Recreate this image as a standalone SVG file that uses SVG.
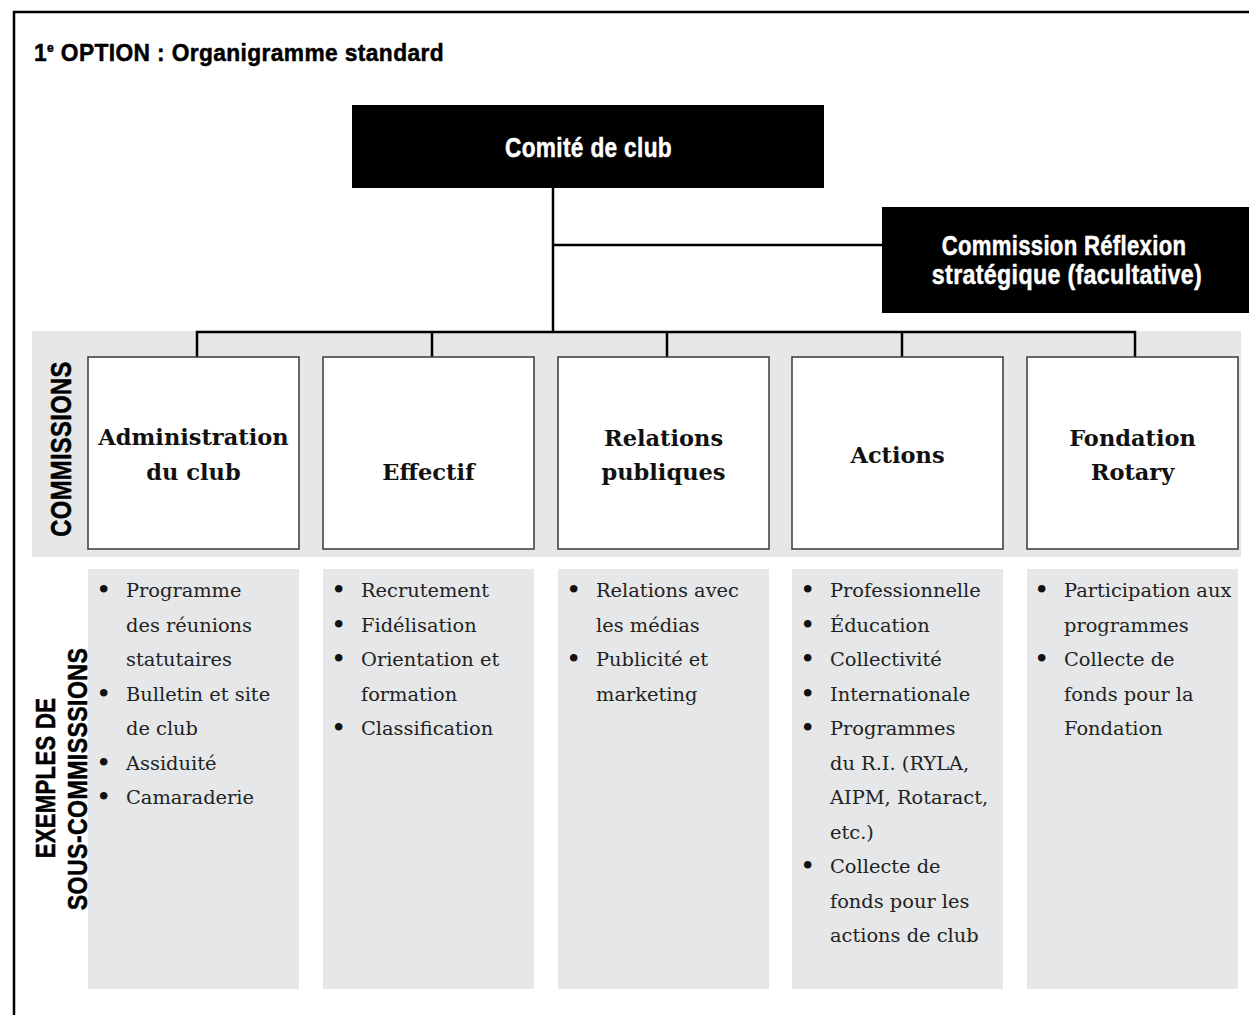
<svg xmlns="http://www.w3.org/2000/svg" width="1249" height="1015" viewBox="0 0 1249 1015">
<style>
  .cond { font-family: "Liberation Sans", Arial, sans-serif; font-weight: bold; stroke-width: 0.5; stroke-linejoin: round; letter-spacing: 0.4px; }
  .dk { fill: #000000; stroke: #000000; }
  .white { fill: #ffffff; stroke: #ffffff; }
  .blk { fill: #000000; }
  .band { fill: #e6e7e8; }
  .box { fill: #ffffff; stroke: #3a3a3a; stroke-width: 1.5; }
  .ttl { font-family: "DejaVu Serif", "Liberation Serif", serif; font-weight: bold; font-size: 22.5px; fill: #111; text-anchor: middle; }
  .li { font-family: "DejaVu Serif", "Liberation Serif", serif; font-size: 19.4px; fill: #222; }
  .bul { font-family: "DejaVu Serif", "Liberation Serif", serif; font-size: 26px; fill: #111; }
  .conn { stroke: #000; stroke-width: 2.5; fill: none; }
</style>
<rect width="1249" height="1015" fill="#ffffff"/>
<path d="M14,1015 V12 H1249" fill="none" stroke="#000" stroke-width="2.5"/>
<text class="cond dk" transform="translate(34,61) scale(0.93,1)" font-size="24.5">1<tspan font-size="13" dy="-9">e</tspan><tspan dy="9"> OPTION : Organigramme standard</tspan></text>

<rect class="band" x="32" y="331" width="1209" height="226"/>
<text class="cond dk" font-size="29" text-anchor="middle" transform="translate(71,449) rotate(-90) scale(0.82,1)">COMMISSIONS</text>
<text class="cond dk" font-size="28" text-anchor="middle" transform="translate(55,778) rotate(-90) scale(0.79,1)">EXEMPLES DE</text>
<text class="cond dk" font-size="28" text-anchor="middle" transform="translate(87,779) rotate(-90) scale(0.83,1)">SOUS-COMMISSSIONS</text>

<g id="connectors">
  <path class="conn" d="M553,188 V332"/>
  <path class="conn" d="M553,245 H882"/>
  <path class="conn" d="M197,357 V332 H1135 V357"/>
  <path class="conn" d="M432,332 V357"/>
  <path class="conn" d="M667,332 V357"/>
  <path class="conn" d="M902,332 V357"/>
</g>

<g id="comite">
  <rect class="blk" x="352" y="105" width="472" height="83"/>
  <text class="cond white" transform="translate(588.5,157) scale(0.81,1)" font-size="28" text-anchor="middle">Comité de club</text>
</g>
<g id="reflexion">
  <rect class="blk" x="882" y="207" width="367" height="106"/>
  <text class="cond white" transform="translate(1064,255) scale(0.79,1)" font-size="28" text-anchor="middle">Commission Réflexion</text>
  <text class="cond white" transform="translate(1067,284) scale(0.83,1)" font-size="28" text-anchor="middle">stratégique (facultative)</text>
</g>

<g id="administration">
  <rect class="box" x="88" y="357" width="211" height="192"/>
  <text class="ttl" x="193.5" y="445">Administration</text>
  <text class="ttl" x="193.5" y="480">du club</text>
</g>
<g id="effectif">
  <rect class="box" x="323" y="357" width="211" height="192"/>
  <text class="ttl" x="428.5" y="480">Effectif</text>
</g>
<g id="relations">
  <rect class="box" x="558" y="357" width="211" height="192"/>
  <text class="ttl" x="663.5" y="446">Relations</text>
  <text class="ttl" x="663.5" y="480">publiques</text>
</g>
<g id="actions">
  <rect class="box" x="792" y="357" width="211" height="192"/>
  <text class="ttl" x="897.5" y="463">Actions</text>
</g>
<g id="fondation">
  <rect class="box" x="1027" y="357" width="211" height="192"/>
  <text class="ttl" x="1132.5" y="446">Fondation</text>
  <text class="ttl" x="1132.5" y="480">Rotary</text>
</g>

<g id="sub-administration">
  <rect class="band" x="88" y="569" width="211" height="420"/>
  <text class="bul" x="96" y="599">•<tspan x="96" dy="103.5">•</tspan><tspan x="96" dy="69">•</tspan><tspan x="96" dy="34.5">•</tspan></text>
  <text class="li" x="126" y="597">Programme<tspan x="126" dy="34.5">des réunions</tspan><tspan x="126" dy="34.5">statutaires</tspan><tspan x="126" dy="34.5">Bulletin et site</tspan><tspan x="126" dy="34.5">de club</tspan><tspan x="126" dy="34.5">Assiduité</tspan><tspan x="126" dy="34.5">Camaraderie</tspan></text>
</g>
<g id="sub-effectif">
  <rect class="band" x="323" y="569" width="211" height="420"/>
  <text class="bul" x="331" y="599">•<tspan x="331" dy="34.5">•</tspan><tspan x="331" dy="34.5">•</tspan><tspan x="331" dy="69">•</tspan></text>
  <text class="li" x="361" y="597">Recrutement<tspan x="361" dy="34.5">Fidélisation</tspan><tspan x="361" dy="34.5">Orientation et</tspan><tspan x="361" dy="34.5">formation</tspan><tspan x="361" dy="34.5">Classification</tspan></text>
</g>
<g id="sub-relations">
  <rect class="band" x="558" y="569" width="211" height="420"/>
  <text class="bul" x="566" y="599">•<tspan x="566" dy="69">•</tspan></text>
  <text class="li" x="596" y="597">Relations avec<tspan x="596" dy="34.5">les médias</tspan><tspan x="596" dy="34.5">Publicité et</tspan><tspan x="596" dy="34.5">marketing</tspan></text>
</g>
<g id="sub-actions">
  <rect class="band" x="792" y="569" width="211" height="420"/>
  <text class="bul" x="800" y="599">•<tspan x="800" dy="34.5">•</tspan><tspan x="800" dy="34.5">•</tspan><tspan x="800" dy="34.5">•</tspan><tspan x="800" dy="34.5">•</tspan><tspan x="800" dy="138">•</tspan></text>
  <text class="li" x="830" y="597">Professionnelle<tspan x="830" dy="34.5">Éducation</tspan><tspan x="830" dy="34.5">Collectivité</tspan><tspan x="830" dy="34.5">Internationale</tspan><tspan x="830" dy="34.5">Programmes</tspan><tspan x="830" dy="34.5">du R.I. (RYLA,</tspan><tspan x="830" dy="34.5">AIPM, Rotaract,</tspan><tspan x="830" dy="34.5">etc.)</tspan><tspan x="830" dy="34.5">Collecte de</tspan><tspan x="830" dy="34.5">fonds pour les</tspan><tspan x="830" dy="34.5">actions de club</tspan></text>
</g>
<g id="sub-fondation">
  <rect class="band" x="1027" y="569" width="211" height="420"/>
  <text class="bul" x="1034" y="599">•<tspan x="1034" dy="69">•</tspan></text>
  <text class="li" x="1064" y="597">Participation aux<tspan x="1064" dy="34.5">programmes</tspan><tspan x="1064" dy="34.5">Collecte de</tspan><tspan x="1064" dy="34.5">fonds pour la</tspan><tspan x="1064" dy="34.5">Fondation</tspan></text>
</g>
</svg>
